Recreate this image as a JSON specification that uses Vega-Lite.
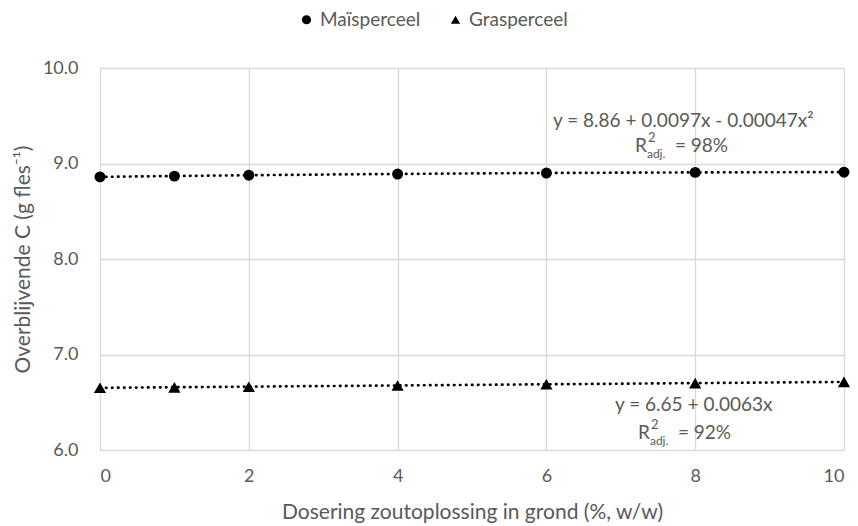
{
  "$schema": "https://vega.github.io/schema/vega-lite/v6.json",
  "width": 744,
  "height": 382,
  "autosize": {"type": "none"},
  "padding": {"left": 100, "top": 68, "right": 14, "bottom": 76},
  "background": "white",
  "config": {
    "view": {"stroke": null},
    "font": "Lato",
    "axis": {
      "labelFont": "Lato", "titleFont": "Lato", "labelColor": "#595959", "titleColor": "#595959",
      "labelFontSize": 18, "titleFontSize": 21, "titleFontWeight": "normal",
      "gridColor": "#d9d9d9", "gridWidth": 1.3, "domain": false, "ticks": false
    },
    "legend": {"labelFont": "Lato", "labelFontSize": 19, "labelColor": "#595959"}
  },
  "datasets": {
    "pts": [
      {"x": 0, "y": 8.86, "s": "Maïsperceel"},
      {"x": 1, "y": 8.868, "s": "Maïsperceel"},
      {"x": 2, "y": 8.878, "s": "Maïsperceel"},
      {"x": 4, "y": 8.89, "s": "Maïsperceel"},
      {"x": 6, "y": 8.9, "s": "Maïsperceel"},
      {"x": 8, "y": 8.907, "s": "Maïsperceel"},
      {"x": 10, "y": 8.909, "s": "Maïsperceel"},
      {"x": 0, "y": 6.652, "s": "Grasperceel"},
      {"x": 1, "y": 6.656, "s": "Grasperceel"},
      {"x": 2, "y": 6.663, "s": "Grasperceel"},
      {"x": 4, "y": 6.676, "s": "Grasperceel"},
      {"x": 6, "y": 6.688, "s": "Grasperceel"},
      {"x": 8, "y": 6.7, "s": "Grasperceel"},
      {"x": 10, "y": 6.713, "s": "Grasperceel"}
    ],
    "eqs": [
      {"x": 7.84, "y": 9.45, "t": "y = 8.86 + 0.0097x - 0.00047x²"},
      {"x": 7.98, "y": 6.471, "t": "y = 6.65 + 0.0063x"}
    ],
    "rsq": [
      {"x": 7.19, "y": 9.183, "v": "= 98%"},
      {"x": 7.23, "y": 6.178, "v": "= 92%"}
    ]
  },
  "layer": [
    {
      "data": {"name": "pts"},
      "transform": [
        {"filter": "datum.s === 'Maïsperceel'"},
        {"regression": "y", "on": "x", "method": "poly", "order": 2, "extent": [0, 10]}
      ],
      "mark": {"type": "line", "color": "black", "strokeWidth": 2.7, "strokeDash": [0.5, 5.5], "strokeCap": "round"},
      "encoding": {
        "x": {"field": "x", "type": "quantitative"},
        "y": {"field": "y", "type": "quantitative"}
      }
    },
    {
      "data": {"name": "pts"},
      "transform": [
        {"filter": "datum.s === 'Grasperceel'"},
        {"regression": "y", "on": "x", "method": "linear", "extent": [0, 10]}
      ],
      "mark": {"type": "line", "color": "black", "strokeWidth": 2.7, "strokeDash": [0.5, 5.5], "strokeCap": "round"},
      "encoding": {
        "x": {"field": "x", "type": "quantitative"},
        "y": {"field": "y", "type": "quantitative"}
      }
    },
    {
      "data": {"name": "pts"},
      "mark": {"type": "point", "filled": true, "opacity": 1, "color": "black"},
      "encoding": {
        "x": {
          "field": "x", "type": "quantitative",
          "scale": {"domain": [0, 10], "nice": false, "zero": false},
          "axis": {"values": [0, 2, 4, 6, 8, 10], "format": "d", "title": "Dosering zoutoplossing in grond (%, w/w)", "labelPadding": 17, "titlePadding": 16}
        },
        "y": {
          "field": "y", "type": "quantitative",
          "scale": {"domain": [6, 10], "nice": false, "zero": false},
          "axis": {"values": [6, 7, 8, 9, 10], "format": ".1f", "title": "Overblijvende C (g fles⁻¹)", "labelPadding": 22, "titlePadding": 9}
        },
        "size": {
          "condition": {"test": "datum.s === 'Grasperceel'", "value": 150},
          "value": 120
        },
        "shape": {
          "field": "s", "type": "nominal",
          "scale": {"domain": ["Maïsperceel", "Grasperceel"], "range": ["circle", "triangle-up"]},
          "legend": {
            "title": null, "orient": "none", "direction": "horizontal",
            "legendX": 197, "legendY": -58, "symbolFillColor": "black", "symbolStrokeColor": "black",
            "symbolSize": 85, "columnPadding": 25, "labelOffset": 4, "symbolOpacity": 1, "padding": 0
          }
        }
      }
    },
    {
      "data": {"name": "eqs"},
      "mark": {"type": "text", "align": "center", "baseline": "middle", "fontSize": 19, "color": "#595959", "font": "Lato"},
      "encoding": {
        "x": {"field": "x", "type": "quantitative"},
        "y": {"field": "y", "type": "quantitative"},
        "text": {"field": "t"}
      }
    },
    {
      "data": {"name": "rsq"},
      "mark": {"type": "text", "align": "left", "baseline": "middle", "fontSize": 19, "color": "#595959", "font": "Lato"},
      "encoding": {
        "x": {"field": "x", "type": "quantitative"},
        "y": {"field": "y", "type": "quantitative"},
        "text": {"value": "R"}
      }
    },
    {
      "data": {"name": "rsq"},
      "mark": {"type": "text", "align": "left", "baseline": "middle", "fontSize": 13, "color": "#595959", "font": "Lato", "dx": 13, "dy": -8},
      "encoding": {
        "x": {"field": "x", "type": "quantitative"},
        "y": {"field": "y", "type": "quantitative"},
        "text": {"value": "2"}
      }
    },
    {
      "data": {"name": "rsq"},
      "mark": {"type": "text", "align": "left", "baseline": "middle", "fontSize": 12, "color": "#595959", "font": "Lato", "dx": 12, "dy": 8},
      "encoding": {
        "x": {"field": "x", "type": "quantitative"},
        "y": {"field": "y", "type": "quantitative"},
        "text": {"value": "adj."}
      }
    },
    {
      "data": {"name": "rsq"},
      "mark": {"type": "text", "align": "left", "baseline": "middle", "fontSize": 19, "color": "#595959", "font": "Lato", "dx": 40},
      "encoding": {
        "x": {"field": "x", "type": "quantitative"},
        "y": {"field": "y", "type": "quantitative"},
        "text": {"field": "v"}
      }
    }
  ]
}
